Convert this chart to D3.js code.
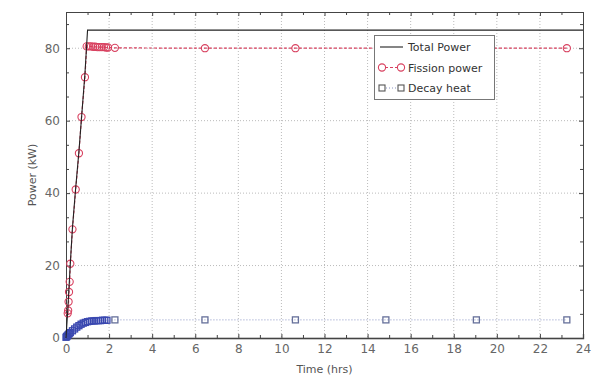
<!DOCTYPE html>
<html>
<head>
<meta charset="utf-8">
<script src="https://cdn.jsdelivr.net/npm/d3@7"></script>
<style>
  html, body { margin: 0; padding: 0; background: #fff; }
  svg { display: block; font-family: "DejaVu Sans", sans-serif; }
</style>
</head>
<body>
<svg id="chart" width="603" height="382"></svg>
<script>
// Reactor start-up: power versus time
const xTicks = [0, 2, 4, 6, 8, 10, 12, 14, 16, 18, 20, 22, 24];
const yTicks = [0, 20, 40, 60, 80];

// Total power (kW)
const totalTime  = [0, 0.08, 0.2, 0.3, 0.45, 0.6, 0.73, 0.88, 1.0, 24];
const totalPower = [0, 7.5, 20.5, 30.5, 41.5, 51.5, 61.5, 73, 85, 85];

// Fission power (kW)
const fissionTime  = [0.08, 0.1, 0.12, 0.14, 0.17, 0.2, 0.3, 0.45, 0.6, 0.72, 0.88,
                      0.96, 1.06, 1.16, 1.26, 1.36, 1.46, 1.56, 1.66, 1.76, 1.86, 1.95,
                      2.27, 6.45, 10.65, 14.85, 19.05, 23.25];
const fissionPower = [6.8, 7.6, 10, 12.7, 15.5, 20.5, 30, 41, 51, 61, 72,
                      80.5, 80.5, 80.5, 80.4, 80.4, 80.3, 80.3, 80.3, 80.3, 80.2, 80.2,
                      80.1, 80, 80, 80, 80, 80];

// Decay heat (kW)
const decayTime = [0, 0.03, 0.06, 0.1, 0.15, 0.2, 0.3, 0.4, 0.5, 0.6, 0.7, 0.8, 0.9,
                   1.0, 1.1, 1.2, 1.3, 1.4, 1.5, 1.6, 1.7, 1.8, 1.9,
                   2.27, 6.45, 10.65, 14.85, 19.05, 23.25];
const decayHeat = [0.2, 0.4, 0.6, 0.9, 1.2, 1.5, 2.0, 2.5, 3.0, 3.4, 3.8, 4.1, 4.3,
                   4.5, 4.6, 4.7, 4.7, 4.8, 4.8, 4.8, 4.9, 4.9, 4.9,
                   5.0, 5.0, 5.0, 5.0, 5.0, 5.0];

const legendLabels = ["Total Power", "Fission power", "Decay heat"];

const svg = d3.select("#chart");
const m = { left: 66, right: 583, top: 12, bottom: 338 };

const x = d3.scaleLinear().domain([0, 24]).range([m.left, m.right]);
const y = d3.scaleLinear().domain([0, 90]).range([m.bottom, m.top]);

// grid lines
const grid = svg.append("g");
grid.selectAll("line.gx").data(xTicks.filter(d => d > 0 && d < 24)).join("line")
  .attr("x1", d => x(d)).attr("x2", d => x(d))
  .attr("y1", m.top).attr("y2", m.bottom)
  .attr("stroke", "#bbb").attr("stroke-width", 1).attr("stroke-dasharray", "1,2");
grid.selectAll("line.gy").data(yTicks.filter(d => d > 0)).join("line")
  .attr("y1", d => y(d)).attr("y2", d => y(d))
  .attr("x1", m.left).attr("x2", m.right)
  .attr("stroke", "#bbb").attr("stroke-width", 1).attr("stroke-dasharray", "1,2");

// axes (ticks point inward)
const xMinor = d3.range(1, 24, 2);
const yMinor = d3.range(0, 90.01, 20 / 3).filter(v => Math.abs(v / 20 - Math.round(v / 20)) > 0.01);

const bottomAxis = svg.append("g").attr("transform", `translate(0,${m.bottom})`)
  .call(d3.axisBottom(x).tickValues(xTicks).tickSize(-4).tickPadding(6).tickFormat(d3.format("d")));
const topAxis = svg.append("g").attr("transform", `translate(0,${m.top})`)
  .call(d3.axisTop(x).tickValues(xTicks).tickSize(-4).tickFormat(""));
const leftAxis = svg.append("g").attr("transform", `translate(${m.left},0)`)
  .call(d3.axisLeft(y).tickValues(yTicks).tickSize(-4).tickPadding(6).tickFormat(d3.format("d")));
const rightAxis = svg.append("g").attr("transform", `translate(${m.right},0)`)
  .call(d3.axisRight(y).tickValues(yTicks).tickSize(-4).tickFormat(""));

svg.append("g").attr("transform", `translate(0,${m.bottom})`)
  .call(d3.axisBottom(x).tickValues(xMinor).tickSize(-3).tickFormat(""));
svg.append("g").attr("transform", `translate(0,${m.top})`)
  .call(d3.axisTop(x).tickValues(xMinor).tickSize(-3).tickFormat(""));
svg.append("g").attr("transform", `translate(${m.left},0)`)
  .call(d3.axisLeft(y).tickValues(yMinor).tickSize(-3).tickFormat(""));
svg.append("g").attr("transform", `translate(${m.right},0)`)
  .call(d3.axisRight(y).tickValues(yMinor).tickSize(-3).tickFormat(""));

svg.selectAll(".domain").attr("stroke", "#444").attr("stroke-width", 1);
svg.selectAll(".tick line").attr("stroke", "#444");
[bottomAxis, leftAxis].forEach(a => a.selectAll("text")
  .attr("fill", "#666").style("font-size", "12px")
  .style("font-family", "'DejaVu Sans', sans-serif"));
bottomAxis.selectAll(".domain").attr("stroke", "#222").attr("stroke-width", 1.3);
leftAxis.selectAll(".domain").attr("stroke", "#555");

// axis titles
svg.append("text").attr("x", (m.left + m.right) / 2).attr("y", 373)
  .attr("text-anchor", "middle").attr("fill", "#555").style("font-size", "11px")
  .text("Time (hrs)");
svg.append("text").attr("transform", `translate(36,${(m.top + m.bottom) / 2}) rotate(-90)`)
  .attr("text-anchor", "middle").attr("fill", "#555").style("font-size", "11px")
  .text("Power (kW)");

// series
const line = d3.line().x(d => x(d[0])).y(d => y(d[1]));
const decayPts = decayTime.map((t, i) => [t, decayHeat[i]]);
const fissionPts = fissionTime.map((t, i) => [t, fissionPower[i]]);
const totalPts = totalTime.map((t, i) => [t, totalPower[i]]);

const fissionColor = "#d8405f";
const decayColor = "#3a48b0";

svg.append("path").datum(decayPts).attr("d", line)
  .attr("fill", "none").attr("stroke", "#8a94c4").attr("stroke-width", 1)
  .attr("stroke-dasharray", "1,2");
svg.selectAll("rect.decay").data(decayPts).join("rect").attr("class", "decay")
  .attr("x", d => x(d[0]) - 3).attr("y", d => y(d[1]) - 3)
  .attr("width", 6).attr("height", 6)
  .attr("fill", "none")
  .attr("stroke", d => d[0] < 2 ? decayColor : "#66709a").attr("stroke-width", 1.3);

svg.append("path").datum(fissionPts).attr("d", line)
  .attr("fill", "none").attr("stroke", fissionColor).attr("stroke-width", 1.2)
  .attr("stroke-dasharray", "3,2");
svg.selectAll("circle.fission").data(fissionPts).join("circle").attr("class", "fission")
  .attr("cx", d => x(d[0])).attr("cy", d => y(d[1])).attr("r", 3.6)
  .attr("fill", "none").attr("stroke", fissionColor).attr("stroke-width", 1.1);

svg.append("path").datum(totalPts).attr("d", line)
  .attr("fill", "none").attr("stroke", "#222").attr("stroke-width", 1.1);

// legend
const lg = svg.append("g");
lg.append("rect").attr("x", 374.5).attr("y", 35.5).attr("width", 120).attr("height", 64)
  .attr("fill", "#fff").attr("stroke", "#777").attr("stroke-width", 1);
const rows = [47, 67.5, 88];
lg.append("line").attr("x1", 380).attr("x2", 403).attr("y1", rows[0]).attr("y2", rows[0])
  .attr("stroke", "#222").attr("stroke-width", 1.1);
lg.append("line").attr("x1", 380).attr("x2", 403).attr("y1", rows[1]).attr("y2", rows[1])
  .attr("stroke", fissionColor).attr("stroke-dasharray", "3,2");
lg.selectAll("circle").data([382, 401]).join("circle")
  .attr("cx", d => d).attr("cy", rows[1]).attr("r", 3.6)
  .attr("fill", "#fff").attr("stroke", fissionColor).attr("stroke-width", 1.1);
lg.append("line").attr("x1", 380).attr("x2", 403).attr("y1", rows[2]).attr("y2", rows[2])
  .attr("stroke", "#8a94c4").attr("stroke-dasharray", "1,2");
lg.selectAll("rect.sym").data([382, 401]).join("rect").attr("class", "sym")
  .attr("x", d => d - 3).attr("y", rows[2] - 3).attr("width", 6).attr("height", 6)
  .attr("fill", "#fff").attr("stroke", "#555").attr("stroke-width", 1.1);
lg.selectAll("text").data(legendLabels).join("text")
  .attr("x", 408).attr("y", (d, i) => rows[i] + 4)
  .attr("fill", "#333").style("font-size", "11px")
  .text(d => d);
</script>
</body>
</html>
